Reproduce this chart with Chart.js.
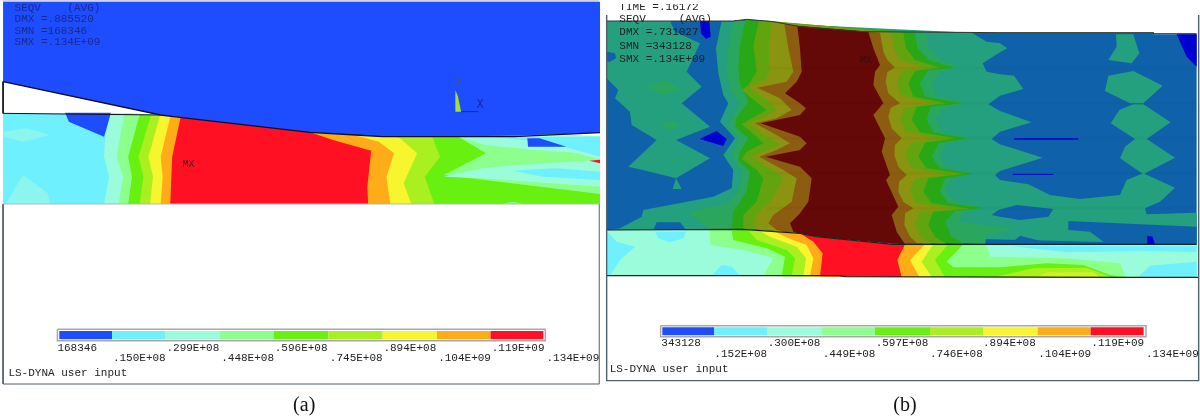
<!DOCTYPE html>
<html><head><meta charset="utf-8">
<script src="https://cdn.jsdelivr.net/npm/chart.js@4/dist/chart.umd.min.js"></script>
<style>
html,body{margin:0;padding:0;background:#fff;width:1200px;height:416px;overflow:hidden}
canvas{position:absolute;top:0}
#a{left:0;filter:blur(.65px)}
#b{left:600px;filter:blur(.3px)}
</style></head><body>
<canvas id="a" width="600" height="416"></canvas>
<canvas id="b" width="600" height="416"></canvas>
<script>
// colours of the nine contour classes
const hot = ['#1e4cff','#6ef0ff','#9bfcdc','#8cff8c','#68f010','#aaf020','#f6f52e','#ffac18','#ff1022'];
const dark = ['#0000d0','#0f62aa','#24a07e','#2aa65e','#28a814','#62a410','#8a9410','#8c5c10','#650808'];
// legend labels
const labelsATop = ['168346','.299E+08','.596E+08','.894E+08','.119E+09'];
const labelsALow = ['.150E+08','.448E+08','.745E+08','.104E+09','.134E+09'];
const labelsBTop = ['343128','.300E+08','.597E+08','.894E+08','.119E+09'];
const labelsBLow = ['.152E+08','.449E+08','.746E+08','.104E+09','.134E+09'];
const edgesA = [155,293,433,575,715,858,1000,1142,1282,1420];
const edgesB = [187,342,501,666,825,990,1149,1313,1472,1631];

// ---- panel (a) contour outlines, x0,y0,x1,y1...
const aBase = [8,340,420,345,810,397,1000,410,1568,400,1568,612,8,612];
const aAqua1 = [10,395,70,385,130,405,60,425,10,410];
const aAqua2 = [15,612,60,525,125,580,130,612];
const aBlue1 = [170,338,290,338,272,410,180,365];
const aL2 = [290,338,275,410,272,470,285,530,272,612,1568,612,1568,400];
const aL3 = [325,340,305,470,322,530,310,612,1568,612,1568,400];
const aL4 = [365,345,335,470,345,530,335,612,1568,612,1568,582,1160,525,1270,460,1200,412,1200,390];
const aL5 = [395,345,362,470,375,530,365,612,1135,612,1110,530,1150,470,1130,412,1130,380];
const aL6 = [418,347,388,470,400,530,392,612,1075,612,1055,550,1090,460,1045,415,1000,395];
const aL7 = [445,350,420,470,425,530,420,612,1020,612,1010,530,1030,460,990,425,925,405,810,390];
const aL8 = [472,352,450,470,445,612,962,612,960,560,970,452,870,420,810,397,800,380];
const aStub = [1310,612,1340,605,1370,612];
const aTopAqua = [1200,412,1568,405,1568,478,1500,458,1380,448,1270,436];
const aTopCyan = [1290,412,1568,410,1568,470,1480,442,1380,420];
const aTopBlue = [1378,415,1410,415,1480,440,1380,440];
const aLowAqua = [1160,530,1260,505,1350,495,1568,480,1568,560,1420,548,1260,535];
const aLowCyan = [1340,512,1450,505,1568,515,1568,540,1420,530];
const aSpeck = [1540,482,1568,479,1568,490];
const aBlock = [8,5,1568,5,1568,398,1345,407,1000,410,930,405,810,397,470,352,420,345,8,245];
const aSliver = [1345,410,1568,398,1568,408,1500,405,1345,412];
const aContact = [8,245,420,345,470,352,810,397,930,405,1000,410,1345,410,1568,398];
const aWedge = [8,245,8,340,420,345];
const aFrame = [8,612,8,1152,1566,1152,1566,612];
const aShelf = [8,612,1566,612];
const aTop = [8,3,1566,3];
const aStem = [1190,270,1197,290,1205,335,1190,335];
const aAxis = [1205,335,1250,335];

// ---- panel (b) upper part
const bBase = [20,18,400,18,440,13,520,20,600,35,790,50,1200,53,1660,53,1660,58,1790,58,1790,688,880,688,650,665,600,655,430,643,20,645];
const bLeftTeal = [20,18,210,18,225,50,300,85,260,170,305,215,245,265,330,335,228,375,330,430,228,490,245,522,218,522,228,490,150,470,85,455,170,375,95,330,90,290,45,250,55,225,20,190];
const bSpot = [20,110,45,115,48,130,30,140,20,140];
const bCentre = [365,18,1115,53,1160,80,1200,85,1222,100,1200,112,1148,145,1160,170,1200,178,1242,182,1270,222,1200,242,1165,268,1200,288,1295,322,1200,350,1175,372,1200,388,1328,428,1200,468,1185,480,1200,495,1285,508,1350,540,1440,552,1560,540,1580,495,1630,475,1725,518,1680,560,1635,580,1640,598,1790,593,1790,688,20,645,60,640,125,605,130,585,340,545,395,520,400,465,370,420,405,370,360,320,385,265,370,240,355,175,348,100];
const bFoot = [160,645,170,622,240,622,258,645];
const bPatch = [1175,600,1195,585,1250,570,1360,582,1345,605,1260,615,1200,605];
const bLowBig = [1405,618,1790,635,1790,688,1520,688,1470,650,1405,645];
const bLowSmall = [1230,688,1260,662,1360,688];
const bDia1 = [1548,58,1600,58,1618,115,1595,145,1525,135,1550,95];
const bDia2 = [1525,182,1600,168,1688,212,1630,265,1590,265,1515,228];
const bDia3 = [1600,268,1630,268,1712,322,1640,372,1605,372,1532,325,1558,285];
const bDia4 = [1605,372,1640,372,1725,428,1630,478,1560,430,1575,395];
const bCorner = [1730,58,1790,58,1790,155,1760,125];
const bPin = [1642,662,1658,665,1665,688,1642,688];
const bPatchDark1 = [300,18,328,18,332,65,318,72,303,55];
const bPatchDark2 = [298,372,350,348,380,372,370,393];
const bDash1 = [1242,372,1435,372];
const bDash2 = [1238,478,1360,478];
const bBlob1 = [135,218,190,195,245,222,190,240];
const bBlob2 = [180,330,208,315,240,330,208,345];
const bBlob3 = [213,438,222,432,228,440,220,446];
// left edges of the bands
const bL3 = [403,15,385,90,380,170,395,225,420,268,390,320,385,335,420,372,395,415,400,430,425,470,420,520,385,565,265,592,330,645];
const bL4 = [437,14,420,90,415,160,420,205,445,262,410,305,405,335,445,370,420,410,415,435,450,470,440,530,400,590,395,645];
const bL5 = [478,15,460,90,470,170,445,210,425,225,470,262,500,285,455,310,425,328,470,365,490,385,440,410,425,432,470,465,490,490,470,560,430,600,430,645];
const bL6 = [515,20,508,90,510,170,495,195,445,215,500,255,530,285,495,305,445,325,500,365,540,388,490,410,455,425,510,460,550,490,510,560,470,600,465,640,480,648];
const bL7 = [553,28,565,100,580,170,560,200,472,218,540,250,575,285,530,310,465,325,530,360,570,385,530,405,478,425,550,465,590,490,575,560,520,600,505,625,530,645,560,652];
const bL8 = [592,33,600,100,605,170,590,200,555,235,600,265,618,280,600,300,482,325,600,365,620,385,600,405,497,425,600,455,635,490,625,560,600,595,570,625,580,650,620,665];
// right edges of the bands, read in the 200px crop starting at 800
const bR3 = [378,53,385,100,420,135,480,158,420,170,395,210,410,245,505,265,430,278,408,315,425,352,515,370,440,385,418,425,440,460,525,475,455,490,437,525,465,560,555,578,490,592,475,620,645,642,560,660,555,688];
const bR4 = [345,53,352,100,385,135,465,158,385,165,360,205,375,245,490,265,390,275,380,315,400,352,505,370,415,385,395,425,420,460,520,476,435,490,420,530,445,565,550,578,465,588,435,620,455,665,495,688];
const bR5 = [310,53,318,100,345,135,420,158,345,168,325,205,340,245,440,265,350,275,335,315,360,352,465,370,375,383,355,425,380,460,490,476,385,490,370,530,395,565,510,581,400,590,385,630,405,665,440,688];
const bR6 = [275,53,282,100,300,135,375,158,305,168,290,200,300,240,395,265,315,278,300,310,315,350,410,370,330,385,315,420,335,460,430,478,345,492,330,530,350,565,450,582,360,592,345,625,360,665,395,688];
const bR7 = [240,53,250,110,262,135,285,157,262,172,257,200,265,235,300,265,272,278,265,305,275,340,305,370,285,390,283,420,295,455,320,480,297,500,295,530,310,560,340,580,315,595,313,630,330,665,355,688];
const bR8 = [205,50,220,100,240,150,225,170,220,210,250,265,220,300,255,370,245,410,270,480,258,495,295,575,275,600,290,650,315,688];
// faint mesh rows
const bRows = [160,265,370,475,580];

// ---- panel (b) lower strip
const sBase = [20,645,430,643,600,655,650,665,880,688,1790,688,1790,787,1578,787,737,785,716,782,20,782];
const sCyanL = [22,650,40,670,50,680,105,695,60,735,30,782,22,782];
const sCyanT = [165,650,258,650,250,670,210,682,175,670];
const sCyanB = [335,782,365,750,395,755,420,782];
const sL3 = [328,645,332,690,430,705,520,728,490,782,1578,787,1790,787,1790,688,880,688,650,665,600,655,430,643];
const sL4 = [395,648,400,675,500,700,555,725,545,784,1575,787,1530,780,1450,750,1340,745,1200,757,1060,757,1040,740,1090,688,880,688,650,665,600,655,430,644];
const sL5 = [445,646,470,675,560,705,585,730,575,784,1035,786,1005,735,1045,688,880,688,650,665,600,655];
const sL6 = [475,646,510,665,590,695,618,730,610,784,995,786,965,740,1000,688,880,688,650,665,600,655];
const sL7 = [525,650,565,670,620,690,640,730,630,784,958,786,930,735,975,688,880,688,650,665,600,655];
const sL8 = [600,655,640,680,668,715,660,784,905,786,892,735,915,688,880,688,650,665];
const sYG = [1180,787,1300,760,1460,758,1535,787];
const sYel = [1310,787,1340,772,1480,772,1500,787];
const sAqua = [1158,690,1790,690,1790,785,1578,787,1560,745,1400,730,1170,725];
const sCyan1 = [1230,693,1790,693,1790,712,1650,708,1400,712];
const sCyan2 = [1615,785,1650,752,1790,740,1790,785];
const bTopLine = [20,18,400,18,440,13,520,20,600,35,790,50,1200,53,1660,53,1660,56,1790,56];
const bMidLine = [20,645,430,643,600,655,650,665,880,688,1790,688];
const bLowLine = [20,782,716,782,737,785,1578,787,1796,787];
const bFrame = [20,0,20,1097,1796,1097,1796,0];
const bBarOutline = [182,932,1638,932,1638,965,182,965];
const aBarOutline = [150,988,1425,988,1425,1022,150,1022];

const pts = a => { const r=[]; for(let i=0;i<a.length;i+=2) r.push({x:a[i],y:a[i+1]}); return r; };
const poly = (a,c) => ({data:pts(a),backgroundColor:c,borderWidth:0,fill:'shape',showLine:true,pointRadius:0,tension:0});
const line = (a,c,w,d) => ({data:pts(a),borderColor:c,borderWidth:w,borderDash:d||[],fill:false,showLine:true,pointRadius:0,tension:0});
const rect = (x0,x1,y0,y1) => [x0,y0,x1,y0,x1,y1,x0,y1];
const bars = (e,y0,y1) => hot.map((c,i)=>poly(rect(e[i],e[i+1],y0,y1),c));
// band outline: left edge going down, then right edge (shifted to panel units) coming back up
const band = (L,R,c) => { const out=L.slice(); for(let i=R.length-2;i>=0;i-=2) out.push(R[i]+600,R[i+1]); return poly(out,c); };

const textPlugin = {
  id:'texts',
  afterDatasetsDraw(chart){
    const o = chart.options.plugins.texts, c = chart.ctx, X = chart.scales.x, Y = chart.scales.y;
    c.save();
    c.textBaseline='middle';
    o.items.forEach(t=>{
      c.save();
      if(t.clipTop!==undefined){ c.beginPath(); c.rect(0,t.clipTop,600,416); c.clip(); }
      c.font = t.font||"11px 'Liberation Mono'";
      c.fillStyle = t.color||'#222';
      c.textAlign = t.align||'left';
      c.fillText(t.s,X.getPixelForValue(t.x),Y.getPixelForValue(t.y));
      c.restore();
    });
    c.restore();
  }
};
function draw(id,xMax,yMin,datasets,items){
  new Chart(document.getElementById(id),{
    type:'scatter',
    data:{datasets:datasets.slice().reverse()},
    options:{
      responsive:false,animation:false,
      layout:{padding:0},
      scales:{x:{type:'linear',display:false,min:0,max:xMax},y:{type:'linear',display:false,reverse:true,min:yMin,max:yMin+1248}},
      plugins:{legend:{display:false},tooltip:{enabled:false},texts:{items}}
    },
    plugins:[textPlugin]
  });
}
const row = (s,x,y) => s.map((t,i)=>({s:t,x:x[i],y}));

draw('a',1568,0,[
  poly(aBase,hot[1]),poly(aAqua1,'#8cf6ee'),poly(aAqua2,'#8cf6ee'),poly(aBlue1,hot[0]),
  poly(aL2,hot[2]),poly(aL3,hot[3]),poly(aL4,hot[4]),poly(aL5,hot[5]),poly(aL6,hot[6]),poly(aL7,hot[7]),poly(aL8,hot[8]),
  poly(aStub,hot[3]),poly(aTopAqua,hot[2]),poly(aTopCyan,hot[1]),poly(aTopBlue,hot[0]),
  poly(aLowAqua,hot[2]),poly(aLowCyan,hot[1]),poly(aSpeck,hot[8]),
  poly(aBlock,hot[0]),poly(aSliver,'#ffffff'),
  line(aContact,'#101020',1.4),line(aWedge,'#101020',1),
  line(aFrame,'#50606a',1),line(aShelf,'#b0b8c0',1),line(aTop,'#a0a8c0',1),
  poly(aStem,'#a8e030'),line(aAxis,'#1828a0',1),
  line(aBarOutline.concat(aBarOutline.slice(0,2)),'#a8a8a8',1.5),
  ...bars(edgesA,993,1018)
],[
  {s:'SEQV    (AVG)',x:38,y:25,color:'#1a2a90'},{s:'DMX =.885520',x:38,y:58,color:'#1a2a90'},
  {s:'SMN =168346',x:38,y:92,color:'#1a2a90'},{s:'SMX =.134E+09',x:38,y:125,color:'#1a2a90'},
  {s:'Y',x:1190,y:243,color:'#4a5a60',font:"10px 'Liberation Mono'"},{s:'X',x:1245,y:315,color:'#1828a0',font:"12px 'Liberation Mono'"},
  {s:'MX',x:477,y:492,color:'#402020',font:"10px 'Liberation Mono'"},
  ...row(labelsATop,[150,435,718,1002,1285],1043),
  ...row(labelsALow,[295,578,862,1145,1428],1075),
  {s:'LS-DYNA user input',x:22,y:1120},
  {s:'(a)',x:795,y:1218,align:'center',font:"20px 'Liberation Serif'",color:'#111'}
]);

draw('b',1800,-45,[
  poly(bBase,dark[1]),poly(bLeftTeal,dark[2]),poly(bSpot,dark[1]),poly(bCentre,dark[2]),
  poly(bFoot,dark[1]),poly(bPatch,dark[1]),poly(bLowBig,dark[1]),poly(bLowSmall,dark[1]),
  poly(bDia1,dark[2]),poly(bDia2,dark[2]),poly(bDia3,dark[2]),poly(bDia4,dark[2]),
  poly(bCorner,dark[0]),poly(bPin,dark[0]),poly(bPatchDark1,dark[0]),poly(bPatchDark2,dark[0]),
  line(bDash1,dark[0],1.5),line(bDash2,dark[0],1),
  poly(bBlob1,dark[3]),poly(bBlob2,dark[3]),poly(bBlob3,dark[3]),
  band(bL3,bR3,dark[3]),band(bL4,bR4,dark[4]),band(bL5,bR5,dark[5]),band(bL6,bR6,dark[6]),band(bL7,bR7,dark[7]),band(bL8,bR8,dark[8]),
  ...bRows.map(y=>line([500,y,1790,y],'rgba(0,0,0,0.025)',3)),
  poly(sBase,hot[2]),poly(sCyanL,hot[1]),poly(sCyanT,hot[1]),poly(sCyanB,hot[1]),
  poly(sL3,hot[3]),poly(sAqua,hot[2]),poly(sCyan1,hot[1]),poly(sCyan2,hot[1]),
  poly(sL4,hot[4]),poly(sYG,hot[5]),poly(sYel,'#ccf226'),poly(sL5,hot[5]),poly(sL6,hot[6]),poly(sL7,hot[7]),poly(sL8,hot[8]),
  line(bTopLine,'#2a3a30',1),line(bMidLine,'#12281e',1.2),line(bLowLine,'#12281e',1.2),
  line(bFrame,'#50606a',1.4),
  line(bBarOutline.concat(bBarOutline.slice(0,2)),'#a8a8a8',1.5),
  ...bars(edgesB,937,961)
],[
  {s:'TIME =.16172',x:58,y:-25,clipTop:4},
  {s:'SEQV     (AVG)',x:58,y:12},{s:'DMX =.731027',x:58,y:52},{s:'SMN =343128',x:58,y:92},{s:'SMX =.134E+09',x:58,y:132},
  {s:'MX',x:780,y:135,color:'#301010',font:"10px 'Liberation Mono'"},
  ...row(labelsBTop,[184,503,827,1149,1474],985),
  ...row(labelsBLow,[343,668,990,1315,1638],1018),
  {s:'LS-DYNA user input',x:29,y:1063},
  {s:'(b)',x:915,y:1173,align:'center',font:"20px 'Liberation Serif'",color:'#111'}
]);
</script>
</body></html>
